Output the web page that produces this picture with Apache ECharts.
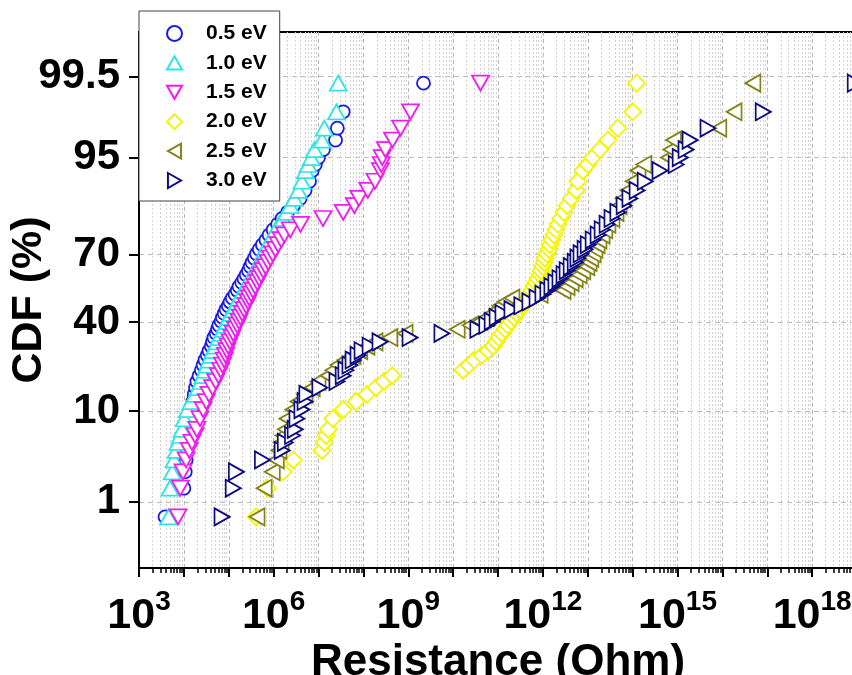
<!DOCTYPE html>
<html><head><meta charset="utf-8">
<script src="https://cdn.jsdelivr.net/npm/echarts@6/dist/echarts.min.js"></script>
<style>html,body{margin:0;padding:0;background:#fff}#c{width:852px;height:675px}</style>
</head><body><div id="c"></div>
<script>
// ---- data ----
const seriesNames = ['0.5 eV','1.0 eV','1.5 eV','2.0 eV','2.5 eV','3.0 eV'];
// cumulative probability (%) of each plotted rank (shared by all series)
const cdfPct = [0.62,1.50,2.38,3.26,4.14,5.03,5.91,6.79,8.55,10.32,12.08,13.84,15.61,17.37,19.14,20.90,22.66,24.43,26.19,27.95,29.72,31.48,33.25,35.01,36.77,38.54,40.30,42.06,43.83,45.59,47.35,49.12,50.88,52.65,54.41,56.17,57.94,59.70,61.46,63.23,64.99,66.76,68.52,70.28,72.05,73.81,75.57,77.34,79.10,80.86,82.63,84.39,86.16,87.92,89.68,91.45,93.21,94.09,94.97,95.86,96.74,97.62,98.50,99.38];
// log10 of resistance (Ohm), sorted, one value per rank above
const logR_05 = [3.58,4.00,4.03,4.05,4.07,4.09,4.12,4.14,4.16,4.17,4.20,4.23,4.26,4.29,4.34,4.39,4.43,4.47,4.52,4.56,4.61,4.64,4.67,4.72,4.75,4.78,4.83,4.86,4.90,4.94,4.99,5.03,5.08,5.14,5.19,5.23,5.29,5.34,5.39,5.44,5.48,5.52,5.57,5.62,5.68,5.75,5.83,5.90,5.99,6.09,6.19,6.31,6.44,6.59,6.70,6.80,6.86,6.93,7.00,7.11,7.38,7.42,7.55,9.34];
const logR_10 = [3.66,3.69,3.74,3.78,3.83,3.87,3.92,3.96,4.01,4.08,4.16,4.25,4.32,4.38,4.43,4.48,4.52,4.56,4.61,4.65,4.70,4.74,4.78,4.83,4.88,4.92,4.97,5.01,5.05,5.10,5.15,5.19,5.23,5.28,5.33,5.39,5.44,5.48,5.52,5.58,5.63,5.68,5.73,5.77,5.81,5.87,5.93,5.99,6.05,6.12,6.21,6.29,6.37,6.46,6.55,6.63,6.71,6.77,6.84,6.91,7.08,7.13,7.40,7.44];
const logR_15 = [3.87,3.92,3.98,4.05,4.12,4.18,4.25,4.29,4.36,4.43,4.50,4.56,4.64,4.71,4.77,4.82,4.86,4.90,4.93,4.96,4.99,5.03,5.07,5.10,5.15,5.19,5.23,5.26,5.30,5.34,5.39,5.43,5.46,5.50,5.54,5.59,5.64,5.68,5.72,5.77,5.82,5.88,5.93,5.98,6.04,6.10,6.17,6.24,6.37,6.60,7.10,7.55,7.80,7.90,8.10,8.26,8.38,8.40,8.42,8.49,8.65,8.83,9.05,10.61];
const logR_20 = [5.61,5.86,6.21,6.44,7.08,7.13,7.17,7.22,7.32,7.55,7.84,8.08,8.28,8.46,8.64,10.22,10.35,10.47,10.64,10.78,10.89,10.96,11.02,11.09,11.16,11.22,11.29,11.36,11.42,11.49,11.53,11.60,11.67,11.71,11.76,11.80,11.85,11.89,11.94,11.96,12.00,12.03,12.05,12.09,12.14,12.16,12.20,12.25,12.29,12.34,12.40,12.47,12.54,12.63,12.74,12.78,12.89,13.00,13.11,13.27,13.45,13.67,14.00,14.09];
const logR_25 = [5.63,5.79,5.97,6.06,6.12,6.17,6.21,6.26,6.30,6.43,6.54,6.70,6.86,6.99,7.21,7.32,7.43,7.59,7.77,7.92,8.08,8.26,8.59,8.93,10.09,10.38,10.60,10.75,10.87,10.98,11.04,11.16,11.31,11.94,12.45,12.54,12.63,12.72,12.81,12.89,12.98,13.03,13.07,13.12,13.16,13.21,13.25,13.32,13.38,13.45,13.54,13.63,13.70,13.79,13.90,14.01,14.12,14.25,14.80,14.85,14.91,15.92,16.26,16.68];
const logR_30 = [4.85,5.10,5.17,5.75,6.19,6.26,6.42,6.48,6.52,6.63,6.70,6.74,7.03,7.41,7.55,7.61,7.70,7.77,7.88,7.97,8.15,8.37,9.04,9.75,10.55,10.75,10.87,10.98,11.11,11.31,11.53,11.71,11.87,12.00,12.11,12.20,12.29,12.38,12.47,12.54,12.63,12.72,12.78,12.85,12.94,13.01,13.12,13.23,13.32,13.43,13.54,13.67,13.81,13.94,14.10,14.28,14.61,14.97,15.06,15.19,15.28,15.68,16.91,18.96];
const xLabelExps = [3,6,9,12,15,18];      // x tick labels: 10^n
const yTickPct = [1,10,40,70,95,99.5];    // y tick labels (%)

// ---- helpers ----
function probit(p){
  const a=[-3.969683028665376e+01,2.209460984245205e+02,-2.759285104469687e+02,1.383577518672690e+02,-3.066479806614716e+01,2.506628277459239e+00];
  const b=[-5.447609879822406e+01,1.615858368580409e+02,-1.556989798598866e+02,6.680131188771972e+01,-1.328068155288572e+01];
  const c=[-7.784894002430293e-03,-3.223964580411365e-01,-2.400758277161838e+00,-2.549732539343734e+00,4.374664141464968e+00,2.938163982698783e+00];
  const d=[7.784695709041462e-03,3.224671290700398e-01,2.445134137142996e+00,3.754408661907416e+00];
  const pl=0.02425, ph=1-pl; let q,r;
  if(p<pl){q=Math.sqrt(-2*Math.log(p));return (((((c[0]*q+c[1])*q+c[2])*q+c[3])*q+c[4])*q+c[5])/((((d[0]*q+d[1])*q+d[2])*q+d[3])*q+1);}
  if(p<=ph){q=p-0.5;r=q*q;return (((((a[0]*r+a[1])*r+a[2])*r+a[3])*r+a[4])*r+a[5])*q/(((((b[0]*r+b[1])*r+b[2])*r+b[3])*r+b[4])*r+1);}
  q=Math.sqrt(-2*Math.log(1-p));return -(((((c[0]*q+c[1])*q+c[2])*q+c[3])*q+c[4])*q+c[5])/((((d[0]*q+d[1])*q+d[2])*q+d[3])*q+1);
}
const yTickZ = yTickPct.map(p => probit(p/100));
const minorVals = [];
for (let e = 3; e < 19; e++) for (let k = 2; k <= 9; k++) minorVals.push(e + Math.log10(k));

const FONT = 'Liberation Sans, Arial, sans-serif';
const styles = [
  {color:'#1a1ae0', symbol:'circle',   size:13,      rot:0,   icon:'circle'},
  {color:'#30e4e4', symbol:'triangle', size:[17,15], rot:0,   icon:'path://M8,0 L16,14 L0,14 Z'},
  {color:'#ee1eee', symbol:'triangle', size:[17,15], rot:180, icon:'path://M0,0 L16,0 L8,14 Z'},
  {color:'#f4f400', symbol:'diamond',  size:[17,17], rot:0,   icon:'diamond'},
  {color:'#84841a', symbol:'triangle', size:[17,15], rot:90,  icon:'path://M14,0 L14,16 L0,8 Z'},
  {color:'#0c0c82', symbol:'triangle', size:[17,15], rot:-90, icon:'path://M0,0 L14,8 L0,16 Z'}
];
const logSets = [logR_05, logR_10, logR_15, logR_20, logR_25, logR_30];

const chart = echarts.init(document.getElementById('c'), null, {renderer:'canvas'});
chart.setOption({
  animation:false,
  backgroundColor:'#fff',
  textStyle:{fontFamily:FONT},
  grid:{left:139, top:32, right:-5, bottom:107, show:true, borderColor:'#000', borderWidth:2,
        containLabel:false, outerBoundsMode:'none'},
  legend:{
    orient:'vertical', left:139, top:11, padding:[12,13,10,27],
    itemWidth:15, itemHeight:15, itemGap:8.4,
    backgroundColor:'#fff', borderColor:'#444', borderWidth:1, z:20,
    itemStyle:{borderWidth:2},
    textStyle:{fontSize:21, fontWeight:'bold', color:'#000', lineHeight:21, fontFamily:FONT, padding:[0,0,0,19]},
    data: seriesNames.map((n, i) => ({name:n, icon:styles[i].icon,
      itemStyle:{color:'#fff', borderColor:styles[i].color, borderWidth:2}}))
  },
  xAxis:[
    {type:'value', min:3, max:19, interval:1, position:'bottom',
     axisLine:{show:true, onZero:false, lineStyle:{color:'#000', width:2}},
     axisTick:{show:true, inside:false, length:9, lineStyle:{color:'#000', width:2}},
     axisLabel:{customValues:xLabelExps, margin:20, color:'#000',
       formatter: v => '{b|10}{s|' + v + '}',
       rich:{
         b:{fontSize:43, fontWeight:'bold', color:'#000', lineHeight:50, verticalAlign:'bottom', fontFamily:FONT},
         s:{fontSize:28, fontWeight:'bold', color:'#000', lineHeight:30, verticalAlign:'top', fontFamily:FONT}
       }},
     splitLine:{show:true, lineStyle:{color:'#b8b8b8', type:[4,3], width:1}},
     name:'Resistance (Ohm)', nameLocation:'middle', nameGap:73, nameMoveOverlap:false,
     nameTextStyle:{fontSize:44, fontWeight:'bold', color:'#000', fontFamily:FONT}
    },
    {type:'value', min:3, max:19, position:'bottom', offset:0,
     axisLine:{show:false, onZero:false}, axisLabel:{show:false},
     axisTick:{show:true, inside:false, customValues:minorVals, length:5, lineStyle:{color:'#000', width:1.5}},
     splitLine:{show:true, lineStyle:{color:'#d2d2d2', type:[2,2], width:1}}
    }
  ],
  yAxis:{
    type:'value', min:probit(0.001), max:probit(0.999), position:'left',
    axisLine:{show:true, onZero:false, lineStyle:{color:'#000', width:2}},
    axisTick:{show:true, inside:false, customValues:yTickZ, length:10, lineStyle:{color:'#000', width:2}},
    axisLabel:{customValues:yTickZ, margin:19, color:'#000', fontSize:42, fontWeight:'bold', fontFamily:FONT,
      formatter: v => { let j=0; yTickZ.forEach((z,i)=>{ if (Math.abs(z-v) < Math.abs(yTickZ[j]-v)) j=i; }); return String(yTickPct[j]); }},
    splitLine:{show:true, lineStyle:{color:'#bdbdbd', type:[5,4], width:1}},
    name:'CDF (%)', nameLocation:'middle', nameGap:88, nameMoveOverlap:false,
    nameTextStyle:{fontSize:43, fontWeight:'bold', color:'#000', fontFamily:FONT}
  },
  series: seriesNames.map((name, si) => ({
    type:'scatter', name:name, xAxisIndex:0, yAxisIndex:0,
    symbol:styles[si].symbol, symbolSize:styles[si].size, symbolRotate:styles[si].rot,
    itemStyle:{color:'#fff', borderColor:styles[si].color, borderWidth:1.8, opacity:1},
    emphasis:{disabled:true}, z:3 + si,
    data: logSets[si].map((lr, i) => [lr, probit(cdfPct[i]/100)])
  }))
});
</script></body></html>
